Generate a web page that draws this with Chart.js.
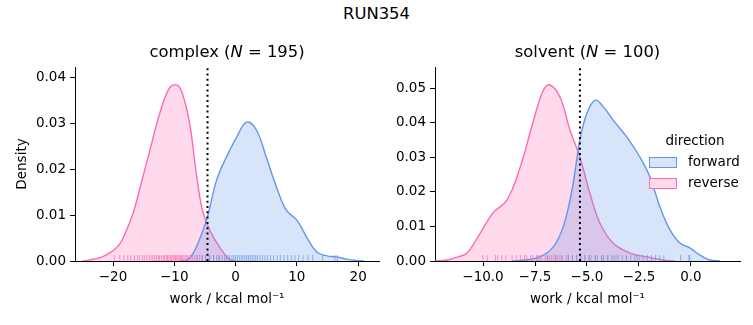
<!DOCTYPE html>
<html lang="en">
<head>
<meta charset="UTF-8">
<title>RUN354</title>
<script src="https://cdn.jsdelivr.net/npm/chart.js@4"></script>
<style>
  body { margin: 0; background: #fff; font-family: 'DejaVu Sans', sans-serif; }
  #wrap { position: relative; width: 753px; height: 325px; overflow: hidden; }
  #suptitle { position: absolute; left: 0; top: 4px; width: 753px; text-align: center; font-size: 16.4px; line-height: 19px; color: #000; }
  canvas { position: absolute; top: 0; }
  #left { left: 0; }
  #right { left: 385px; }
</style>
</head>
<body>
<div id="wrap">
  <div id="suptitle">RUN354</div>
  <canvas id="left" width="385" height="325"></canvas>
  <canvas id="right" width="368" height="325"></canvas>
</div>

<script>
  // colours used by seaborn for the two directions
  const BLUE = '#6495ed', PINK = '#ff69b4';
  const BLUE_FILL = 'rgba(100,149,237,0.25)', PINK_FILL = 'rgba(255,105,180,0.25)';
  const BLUE_RUG = 'rgba(100,149,237,0.7)', PINK_RUG = 'rgba(255,105,180,0.7)';
  const FONT = "'DejaVu Sans', sans-serif";

  const directions = ['forward', 'reverse'];

  // complex leg, kde curves (work, density)
  const complexFwdX = [-9.0, -8.0, -7.0, -5.9, -4.6, -3.1, -1.5, 0.2, 1.8, 3.4, 5.0, 6.7, 8.3, 10.0, 11.6, 13.2, 14.9, 16.5, 18.1, 19.8, 21.0];
  const complexFwdY = [0, 0.0002, 0.0015, 0.0046, 0.0096, 0.0176, 0.0226, 0.027, 0.0302, 0.0285, 0.0226, 0.016, 0.011, 0.0089, 0.0052, 0.002, 0.0011, 0.0009, 0.0004, 0.0001, 0];
  const complexRevX = [-25.0, -23.9, -22.0, -20.6, -19.0, -17.8, -16.7, -15.7, -14.0, -12.4, -10.8, -9.6, -8.7, -7.5, -6.4, -5.4, -4.2, -2.6, -1.0, 0.0];
  const complexRevY = [0, 0.0002, 0.0008, 0.0017, 0.0035, 0.0067, 0.0105, 0.0154, 0.024, 0.032, 0.0376, 0.0383, 0.0365, 0.030, 0.019, 0.011, 0.0067, 0.003, 0.0004, 0];

  // complex leg, individual work values (rug)
  const complexFwdRug = [-6.3, -5.5, -4.9, -4.2, -3.6, -3.1, -2.6, -2.2, -1.8, -1.4, -1.0, -0.6, -0.3, 0.0, 0.3, 0.6, 0.9, 1.2, 1.5, 1.8, 2.1, 2.4, 2.7, 3.0, 3.3, 3.6, 4.0, 4.4, 4.8, 5.2, 5.7, 6.2, 6.8, 7.3, 7.9, 8.5, 9.1, 9.7, 10.3, 11.0, 11.8, 12.6, 14.2, 16.2, 16.6];
  const complexRevRug = [-19.8, -18.9, -18.2, -17.6, -17.1, -16.5, -16.0, -15.7, -15.2, -14.9, -14.5, -14.1, -13.8, -13.5, -13.2, -12.9, -12.6, -12.4, -12.1, -11.8, -11.6, -11.3, -11.1, -10.9, -10.6, -10.4, -10.2, -10.0, -9.8, -9.6, -9.4, -9.2, -9.0, -8.8, -8.6, -8.4, -8.1, -7.9, -7.6, -7.3, -7.0, -6.7, -6.3, -5.9, -5.4, -4.9, -4.3, -3.6, -2.8, -1.5];

  // solvent leg, kde curves
  const solventFwdX = [-8.6, -8.08, -7.26, -6.63, -6.15, -5.72, -5.34, -5.0, -4.6, -4.2, -3.75, -3.08, -2.45, -1.97, -1.49, -1.01, -0.53, -0.05, 0.43, 0.91, 1.4];
  const solventFwdY = [0, 0.0002, 0.0012, 0.004, 0.0098, 0.0205, 0.035, 0.0428, 0.0465, 0.0445, 0.0408, 0.0358, 0.030, 0.0243, 0.0156, 0.009, 0.0052, 0.0038, 0.0017, 0.0003, 0];
  const solventRevX = [-12.3, -11.73, -11.2, -10.77, -10.14, -9.52, -8.85, -8.22, -7.6, -7.1, -6.78, -6.3, -5.82, -5.34, -4.86, -4.38, -3.75, -2.93, -2.12, -1.35, -0.8];
  const solventRevY = [0, 0.0003, 0.0012, 0.0023, 0.008, 0.0139, 0.0176, 0.027, 0.040, 0.0494, 0.0509, 0.0474, 0.0379, 0.030, 0.0196, 0.011, 0.0052, 0.0023, 0.0012, 0.0003, 0];

  // solvent leg, rug
  const solventFwdRug = [-7.4, -6.9, -6.5, -6.2, -5.9, -5.7, -5.5, -5.3, -5.1, -4.9, -4.8, -4.6, -4.5, -4.3, -4.2, -4.0, -3.8, -3.7, -3.5, -3.3, -3.1, -2.9, -2.7, -2.5, -2.3, -2.1, -1.9, -1.7, -1.5, -1.3, -0.5, -0.1, -0.05];
  const solventRevRug = [-10.0, -9.8, -9.4, -9.3, -9.1, -8.9, -8.6, -8.4, -8.2, -8.0, -7.9, -7.7, -7.6, -7.4, -7.3, -7.2, -7.0, -6.9, -6.8, -6.7, -6.6, -6.5, -6.4, -6.3, -6.2, -6.0, -5.9, -5.7, -5.5, -5.3, -5.1, -4.9, -4.6, -4.3, -4.0, -3.6, -3.1, -2.6];

  // dotted line position (work)
  const complexLine = -4.58;
  const solventLine = -5.34;

  // ticks
  const complexXTicks = [-20, -10, 0, 10, 20];
  const complexYTicks = [0, 0.01, 0.02, 0.03, 0.04];
  const solventXTicks = [-10, -7.5, -5, -2.5, 0];
  const solventYTicks = [0, 0.01, 0.02, 0.03, 0.04, 0.05];

  function fmt(v, d) {
    return (v < -1e-9 ? '\u2212' : '') + Math.abs(v).toFixed(d);
  }

  function pts(xs, ys) {
    return xs.map((x, i) => ({ x: x, y: ys[i] }));
  }

  function titlePlugin(name, n) {
    return {
      id: 'panelTitle',
      afterDraw(chart) {
        const ctx = chart.ctx, a = chart.chartArea;
        const parts = [[name + ' (', 'normal'], ['N', 'italic'], [' = ' + n + ')', 'normal']];
        ctx.save();
        ctx.fillStyle = '#000';
        ctx.textBaseline = 'middle';
        ctx.textAlign = 'left';
        let w = 0;
        parts.forEach(p => { ctx.font = p[1] + ' 16.4px ' + FONT; w += ctx.measureText(p[0]).width; });
        let x = (a.left + a.right) / 2 - w / 2;
        parts.forEach(p => {
          ctx.font = p[1] + ' 16.4px ' + FONT;
          ctx.fillText(p[0], x, a.top - 14);
          x += ctx.measureText(p[0]).width;
        });
        ctx.restore();
      }
    };
  }

  const legendPlugin = {
    id: 'dirLegend',
    afterDraw(chart) {
      const ctx = chart.ctx, a = chart.chartArea;
      const x0 = a.right - 91;
      ctx.save();
      ctx.fillStyle = '#000';
      ctx.font = '13.5px ' + FONT;
      ctx.textBaseline = 'middle';
      ctx.textAlign = 'center';
      ctx.fillText('direction', a.right - 45, a.top + 74);
      const cols = [[BLUE_FILL, BLUE], [PINK_FILL, PINK]];
      directions.forEach((d, i) => {
        const y = a.top + 90 + i * 21;
        ctx.fillStyle = '#fff';
        ctx.fillRect(x0, y, 27, 10);
        ctx.fillStyle = cols[i][0];
        ctx.fillRect(x0, y, 27, 10);
        ctx.strokeStyle = cols[i][1];
        ctx.lineWidth = 1;
        ctx.strokeRect(x0 + 0.5, y + 0.5, 27, 10);
        ctx.fillStyle = '#000';
        ctx.textAlign = 'left';
        ctx.fillText(d, x0 + 39, y + 5);
      });
      ctx.restore();
    }
  };

  function makeChart(id, cfg) {
    const rugY = cfg.yMax * 3 / 194;
    const datasets = [
      { data: [{ x: cfg.line, y: 0 }, { x: cfg.line, y: cfg.yMax }], borderColor: '#000', borderWidth: 2,
        borderDash: [2, 3.3], pointRadius: 0, fill: false, order: 0 },
      { data: cfg.fwdRug.map(v => ({ x: v, y: rugY })), showLine: false, pointStyle: 'line', pointRotation: 90,
        pointRadius: 3, pointBorderWidth: 1, pointBorderColor: BLUE_RUG, order: 1 },
      { data: cfg.revRug.map(v => ({ x: v, y: rugY })), showLine: false, pointStyle: 'line', pointRotation: 90,
        pointRadius: 3, pointBorderWidth: 1, pointBorderColor: PINK_RUG, order: 1 },
      { label: directions[0], data: cfg.fwd, borderColor: BLUE, backgroundColor: BLUE_FILL, borderWidth: 1.4,
        pointRadius: 0, fill: 'origin', tension: 0.4, order: 2 },
      { label: directions[1], data: cfg.rev, borderColor: PINK, backgroundColor: PINK_FILL, borderWidth: 1.4,
        pointRadius: 0, fill: 'origin', tension: 0.4, order: 3 }
    ];
    const plugins = [titlePlugin(cfg.name, cfg.n)];
    if (cfg.legend) plugins.push(legendPlugin);

    return new Chart(document.getElementById(id), {
      type: 'line',
      data: { datasets: datasets },
      plugins: plugins,
      options: {
        responsive: false,
        animation: false,
        layout: { padding: { top: 67, right: cfg.padRight, left: 0, bottom: 0 } },
        plugins: { legend: { display: false }, tooltip: { enabled: false } },
        scales: {
          x: {
            type: 'linear', min: cfg.xMin, max: cfg.xMax,
            afterFit: s => { s.height = 64; },
            afterBuildTicks: s => { s.ticks = cfg.xTicks.map(v => ({ value: v })); },
            grid: { drawOnChartArea: false, tickLength: 5, color: '#000' },
            border: { color: '#000', width: 1 },
            ticks: { color: '#000', padding: 3, maxRotation: 0, font: { family: FONT, size: 13.5 },
                     callback: v => fmt(v, cfg.xDec) },
            title: { display: true, text: 'work / kcal mol\u207b\u00b9', color: '#000',
                     font: { family: FONT, size: 13.5 }, padding: { top: 0, bottom: 17 } }
          },
          y: {
            min: 0, max: cfg.yMax,
            afterFit: s => { s.width = cfg.yWidth; },
            afterBuildTicks: s => { s.ticks = cfg.yTicks.map(v => ({ value: v })); },
            grid: { drawOnChartArea: false, tickLength: 5, color: '#000' },
            border: { color: '#000', width: 1 },
            ticks: { color: '#000', padding: 4, font: { family: FONT, size: 13.5 },
                     callback: v => fmt(v, 2) },
            title: { display: cfg.yTitle, text: 'Density', color: '#000',
                     font: { family: FONT, size: 13.5 }, padding: { top: 14, bottom: 0 } }
          }
        }
      }
    });
  }

  makeChart('left', {
    name: 'complex', n: 195,
    fwd: pts(complexFwdX, complexFwdY), rev: pts(complexRevX, complexRevY),
    fwdRug: complexFwdRug, revRug: complexRevRug, line: complexLine,
    xMin: -26.2, xMax: 23.4, yMax: 0.0422, xTicks: complexXTicks, yTicks: complexYTicks, xDec: 0,
    yWidth: 75, padRight: 6, yTitle: true, legend: false
  });

  makeChart('right', {
    name: 'solvent', n: 100,
    fwd: pts(solventFwdX, solventFwdY), rev: pts(solventRevX, solventRevY),
    fwdRug: solventFwdRug, revRug: solventRevRug, line: solventLine,
    xMin: -12.31, xMax: 2.36, yMax: 0.0561, xTicks: solventXTicks, yTicks: solventYTicks, xDec: 1,
    yWidth: 50, padRight: 13, yTitle: false, legend: true
  });
</script>
</body>
</html>
